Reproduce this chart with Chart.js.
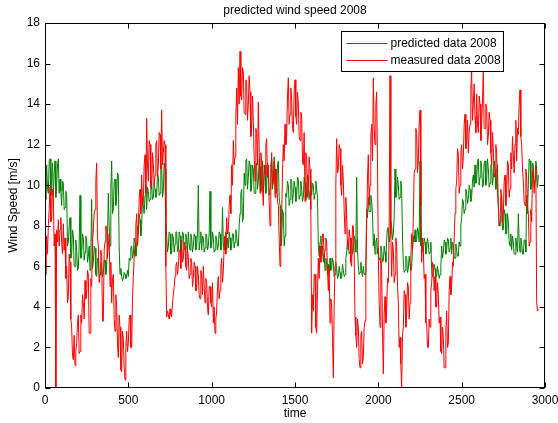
<!DOCTYPE html>
<html>
<head>
<meta charset="utf-8">
<script src="https://cdn.jsdelivr.net/npm/chart.js@4.4.1/dist/chart.umd.min.js"></script>
<style>
  html, body { margin: 0; padding: 0; background: #fff; }
  #wind-plot { display: block; }
</style>
</head>
<body>
<canvas id="wind-plot" width="558" height="423"></canvas>
<script>
// values, one sample every 5 time units starting at 0
// (each row = 100 time units)
const timeStep = 5;

const predicted2008 = [
  10.2, 9.3, 11.0, 9.8, 9.6, 11.2, 11.3, 9.5, 10.4, 11.1, 9.5, 10.6, 11.2, 9.4, 10.0, 11.0, 11.3, 9.6, 10.3, 9.7,
  9.0, 10.2, 10.1, 8.8, 8.9, 9.7, 9.6, 7.0, 7.2, 8.0, 8.4, 6.4, 6.6, 7.8, 7.5, 6.0, 6.0, 7.3, 6.8, 5.8,
  5.9, 7.0, 9.5, 6.4, 6.6, 7.6, 7.4, 6.3, 6.7, 7.5, 7.3, 6.2, 6.5, 7.0, 5.8, 6.6, 9.3, 5.9, 6.2, 7.0,
  6.9, 5.6, 5.5, 6.4, 6.2, 5.5, 5.6, 6.2, 6.0, 5.5, 5.7, 6.3, 6.3, 5.6, 6.0, 7.4, 9.6, 8.0, 7.0, 9.8,
  11.2, 8.6, 8.8, 10.2, 10.3, 9.0, 9.4, 10.6, 10.5, 7.0, 5.6, 5.9, 5.5, 5.3, 5.4, 5.7, 5.6, 5.4, 5.5, 5.8,
  5.5, 6.4, 6.3, 6.9, 7.0, 6.4, 6.6, 7.4, 7.2, 6.5, 6.8, 8.0, 7.6, 8.6, 8.3, 7.5, 8.0, 9.4, 9.0, 8.6,
  9.5, 10.0, 8.8, 9.9, 9.7, 9.2, 9.3, 10.2, 10.0, 9.3, 9.4, 10.1, 9.8, 9.4, 9.5, 10.6, 10.4, 9.5, 9.6, 11.0,
  11.0, 9.4, 9.7, 11.1, 10.8, 8.5, 7.5, 6.7, 7.0, 7.7, 7.6, 6.6, 6.7, 7.6, 7.4, 6.7, 7.1, 7.7, 7.7, 6.7,
  6.8, 7.7, 7.5, 6.7, 7.0, 7.7, 7.6, 6.8, 6.9, 7.6, 7.3, 6.7, 7.7, 7.1, 6.8, 7.6, 7.4, 6.7, 7.0, 7.6,
  7.5, 6.8, 7.0, 7.7, 10.0, 6.8, 7.2, 7.7, 6.8, 7.5, 7.4, 6.7, 6.9, 7.6, 7.5, 6.8, 7.0, 7.6, 9.7, 6.9,
  7.0, 7.7, 7.4, 6.7, 6.8, 7.5, 7.3, 6.8, 7.0, 7.7, 7.6, 6.8, 6.9, 8.9, 7.1, 6.8, 7.5, 7.7, 6.8, 7.4,
  6.9, 7.7, 7.4, 6.8, 7.0, 7.6, 7.6, 6.9, 7.2, 7.8, 7.5, 7.0, 7.0, 8.0, 8.6, 9.6, 9.8, 8.2, 8.4, 10.6,
  10.0, 11.2, 11.3, 9.8, 10.4, 11.2, 11.0, 9.7, 10.0, 11.0, 10.8, 9.6, 9.6, 10.9, 11.1, 9.8, 10.2, 11.3, 10.9, 9.7,
  10.3, 11.2, 9.6, 10.5, 11.0, 9.6, 10.0, 11.1, 10.7, 9.5, 9.8, 11.0, 11.3, 9.8, 10.2, 11.4, 10.8, 9.6, 9.9, 11.0,
  11.2, 9.4, 9.0, 7.0, 7.2, 8.8, 8.6, 7.0, 7.5, 9.6, 9.4, 10.2, 10.0, 9.0, 9.3, 10.3, 10.2, 9.1, 9.6, 10.2,
  9.9, 9.2, 9.4, 10.4, 10.3, 9.3, 9.5, 10.2, 9.8, 9.2, 9.4, 10.4, 10.1, 9.3, 9.6, 10.5, 10.4, 9.3, 9.7, 10.2,
  9.5, 10.1, 10.0, 9.3, 9.6, 10.2, 9.8, 9.4, 7.0, 6.5, 7.2, 7.5, 6.5, 7.0, 6.2, 6.6, 5.8, 6.4, 6.1, 5.6,
  6.1, 5.5, 6.4, 5.8, 5.9, 6.4, 6.2, 5.5, 5.6, 6.2, 5.9, 5.4, 5.5, 6.0, 5.7, 5.4, 5.5, 6.1, 5.8, 5.5,
  5.6, 6.4, 6.7, 7.3, 7.2, 6.6, 6.7, 7.4, 7.2, 6.6, 6.8, 7.5, 7.3, 6.7, 10.4, 6.8, 6.0, 5.6, 5.7, 6.2,
  5.8, 5.5, 6.0, 5.6, 5.6, 6.2, 8.8, 8.4, 9.4, 8.7, 8.7, 9.5, 9.2, 8.6, 7.0, 7.6, 6.6, 7.2, 7.4, 6.6,
  6.9, 6.3, 6.4, 7.0, 6.8, 6.2, 6.3, 7.0, 6.7, 6.2, 7.3, 7.9, 7.9, 7.2, 7.5, 8.2, 8.0, 7.3, 7.6, 8.4,
  10.8, 9.4, 9.5, 10.4, 10.0, 9.3, 9.4, 10.2, 9.8, 7.4, 6.2, 5.7, 5.8, 6.5, 6.4, 5.7, 5.9, 6.5, 6.1, 5.8,
  6.0, 6.8, 7.5, 7.2, 7.8, 7.2, 7.3, 7.9, 7.7, 7.2, 11.2, 7.0, 7.4, 6.7, 6.8, 7.4, 7.2, 6.6, 6.9, 7.4,
  7.1, 6.6, 6.7, 7.2, 5.8, 5.5, 5.6, 6.1, 5.9, 5.5, 5.5, 6.0, 5.7, 5.4, 5.6, 6.0, 7.0, 6.4, 6.7, 7.3,
  7.2, 6.6, 6.8, 7.4, 7.3, 6.7, 6.9, 7.4, 6.6, 7.2, 7.0, 6.4, 6.4, 7.1, 6.8, 6.5, 6.5, 7.2, 7.0, 8.0,
  8.4, 9.3, 9.2, 8.6, 8.8, 9.8, 9.6, 9.1, 9.3, 10.0, 9.8, 9.2, 9.4, 10.2, 10.5, 9.9, 11.0, 10.1, 10.2, 11.2,
  11.3, 10.0, 10.4, 11.2, 10.9, 9.9, 10.0, 11.1, 11.2, 10.0, 10.3, 11.3, 10.8, 9.9, 10.1, 11.0, 11.0, 10.0, 10.4, 11.2,
  10.8, 9.8, 10.2, 11.0, 9.0, 8.0, 8.0, 9.2, 9.5, 7.8, 7.8, 8.8, 8.6, 7.6, 7.6, 8.6, 8.2, 7.2, 7.0, 7.6,
  6.8, 7.5, 7.2, 6.6, 6.6, 7.4, 7.0, 6.7, 8.6, 7.2, 6.7, 7.4, 7.1, 6.6, 6.6, 7.3, 7.3, 6.7, 9.5, 8.6,
  10.0, 11.3, 11.2, 9.8, 10.2, 11.1, 11.0, 9.9, 10.3, 11.2, 10.8, 9.9, 10.5
];

const measured2008 = [
  6.3, 5.6, 7.5, 6.6, 8.0, 8.8, 9.9, 8.2, 8.3, 9.8, 9.6, 7.0, 7.6, 0.0, 7.8, 7.2, 8.3, 7.0, 7.8, 8.4,
  7.2, 6.6, 8.1, 6.8, 7.4, 5.4, 6.0, 4.2, 4.5, 6.6, 6.2, 3.4, 3.0, 1.6, 1.4, 2.6, 1.1, 1.8, 2.2, 3.2,
  3.6, 1.7, 1.8, 3.6, 3.2, 4.6, 4.2, 3.4, 5.3, 4.4, 4.6, 5.8, 5.6, 2.7, 2.7, 5.4, 5.0, 7.2, 7.8, 8.6,
  8.8, 10.2, 11.1, 7.4, 7.0, 5.2, 5.6, 6.8, 6.5, 3.3, 3.3, 6.8, 7.2, 8.0, 7.8, 6.4, 7.0, 7.6, 5.0, 6.2,
  4.2, 5.4, 5.6, 3.4, 2.8, 4.6, 4.0, 2.2, 1.5, 3.6, 3.0, 0.9, 0.8, 2.8, 2.4, 1.0, 0.4, 2.0, 2.8, 1.8,
  2.2, 3.4, 3.6, 2.0, 2.0, 4.4, 5.5, 6.4, 7.0, 8.0, 8.6, 7.0, 7.6, 9.4, 9.8, 8.6, 10.5, 9.0, 9.2, 11.0,
  11.5, 9.6, 13.3, 11.0, 10.2, 12.2, 12.0, 10.0, 9.8, 11.6, 11.0, 10.0, 10.5, 12.0, 12.2, 10.4, 11.0, 12.6, 12.5, 10.8,
  13.7, 11.0, 11.6, 12.2, 12.0, 6.0, 3.5, 3.8, 3.6, 3.4, 3.9, 3.6, 3.5, 4.2, 4.6, 5.0, 5.5, 6.0, 6.2, 5.6,
  6.0, 6.8, 6.8, 5.9, 7.3, 6.2, 6.4, 7.2, 7.0, 6.0, 5.8, 6.8, 6.5, 5.4, 5.6, 6.4, 6.2, 5.0, 5.4, 6.2,
  6.0, 4.8, 4.8, 6.0, 5.6, 4.6, 4.4, 5.8, 5.5, 4.6, 6.0, 5.0, 4.2, 5.4, 5.2, 4.0, 3.6, 5.0, 5.0, 4.2,
  4.0, 5.2, 3.2, 4.0, 2.7, 3.4, 3.8, 5.0, 5.5, 4.4, 4.8, 6.0, 6.4, 5.2, 5.8, 7.0, 7.5, 6.6, 8.4, 7.6,
  7.8, 9.0, 9.5, 8.6, 11.0, 10.0, 12.2, 11.0, 11.4, 13.4, 14.8, 13.0, 15.8, 14.0, 16.6, 14.4, 14.2, 15.8, 15.6, 13.6,
  13.5, 15.2, 15.0, 13.2, 14.0, 15.4, 14.6, 12.4, 12.8, 14.4, 13.2, 11.4, 10.2, 12.8, 12.6, 11.0, 14.1, 11.8, 9.6, 11.6,
  11.2, 9.8, 9.0, 11.0, 10.5, 12.0, 12.3, 10.4, 11.0, 9.2, 8.0, 10.2, 11.6, 10.0, 10.2, 11.2, 9.4, 10.6, 10.8, 9.2,
  9.0, 7.4, 6.0, 7.8, 8.5, 10.6, 12.0, 11.2, 13.0, 12.0, 12.4, 14.4, 15.3, 13.0, 13.5, 14.8, 14.2, 12.8, 12.6, 14.6,
  15.2, 13.4, 13.0, 14.6, 14.0, 12.4, 12.2, 13.6, 13.4, 11.2, 11.0, 12.6, 9.2, 11.6, 11.4, 9.4, 9.6, 11.4, 10.8, 8.8,
  2.7, 4.6, 3.8, 5.6, 5.6, 3.0, 2.7, 4.8, 6.4, 5.4, 7.0, 6.2, 6.5, 7.6, 7.6, 6.4, 6.8, 7.4, 7.2, 5.8,
  4.8, 6.0, 3.2, 4.4, 4.2, 2.4, 0.5, 4.0, 6.0, 10.0, 12.3, 10.6, 10.8, 12.0, 11.8, 10.0, 9.5, 11.0, 10.2, 8.8,
  7.6, 9.4, 8.6, 7.0, 6.8, 7.8, 7.4, 6.2, 6.0, 8.0, 8.0, 6.6, 3.5, 2.6, 2.0, 3.4, 3.0, 1.4, 1.0, 2.6,
  2.8, 1.2, 1.5, 3.0, 3.3, 5.6, 8.0, 10.4, 11.5, 9.0, 10.0, 12.4, 13.0, 11.2, 15.3, 12.8, 12.0, 14.0, 14.6, 11.0,
  6.5, 4.2, 3.0, 6.4, 5.8, 2.8, 0.7, 3.6, 4.5, 3.2, 3.8, 5.4, 5.2, 8.0, 15.4, 7.6, 5.5, 7.2, 6.8, 5.2,
  5.6, 7.4, 7.0, 5.0, 4.2, 2.0, 2.5, 1.2, 0.0, 2.6, 3.0, 4.8, 4.6, 3.0, 3.6, 5.2, 5.0, 3.4, 4.2, 6.4,
  7.6, 6.8, 8.4, 10.6, 10.8, 12.8, 12.6, 10.6, 11.2, 13.0, 13.7, 9.0, 6.2, 7.4, 6.8, 5.4, 5.6, 3.2, 3.2, 2.0,
  2.0, 3.4, 3.0, 4.8, 5.2, 6.2, 6.0, 4.8, 5.5, 4.0, 4.0, 5.2, 4.6, 3.2, 3.5, 1.8, 1.7, 3.0, 2.5, 1.0,
  1.0, 2.8, 3.8, 2.0, 2.2, 4.8, 5.5, 4.6, 5.0, 6.2, 6.0, 7.4, 8.6, 9.8, 10.2, 11.8, 11.5, 9.6, 10.0, 11.6,
  12.0, 10.8, 11.4, 13.0, 13.5, 11.8, 12.2, 13.2, 11.6, 12.6, 13.0, 14.8, 15.6, 13.2, 14.0, 15.0, 13.4, 12.6, 14.5, 13.0,
  12.6, 14.4, 14.0, 12.2, 13.0, 14.2, 15.6, 12.8, 12.8, 14.0, 13.8, 12.0, 12.4, 13.6, 13.2, 11.6, 11.0, 12.6, 11.8, 10.4,
  10.6, 12.0, 11.6, 9.6, 9.0, 8.0, 8.2, 9.8, 9.4, 8.2, 8.6, 10.2, 10.5, 9.0, 9.6, 11.2, 11.0, 9.4, 9.8, 11.6,
  10.8, 12.4, 11.5, 10.6, 12.0, 13.2, 11.2, 12.8, 12.5, 14.0, 14.7, 12.4, 12.0, 10.8, 10.2, 9.2, 9.0, 10.8, 10.4, 9.0,
  8.6, 7.0, 7.2, 8.8, 8.2, 10.6, 10.8, 9.6, 10.2, 11.0, 4.2, 3.8, 3.9
];

const seriesLabels = ['predicted data 2008', 'measured data 2008'];
const seriesColors = ['#008000', '#ff0000'];
const timeTicks = [0, 500, 1000, 1500, 2000, 2500, 3000];
const speedTicks = [0, 2, 4, 6, 8, 10, 12, 14, 16, 18];

const chartTitle = 'predicted wind speed 2008';
const xTitle = 'time';
const yTitle = 'Wind Speed [m/s]';

const fontFamily = '"Liberation Sans", Arial, Helvetica, sans-serif';
Chart.defaults.font.family = fontFamily;
Chart.defaults.font.size = 12;
Chart.defaults.color = '#000';

function toPoints(values) {
    return values.map((v, i) => ({ x: i * timeStep, y: v }));
}

// matlab style box, inward ticks, titles and legend
const matlabAxes = {
    id: 'matlabAxes',
    afterDatasetsDraw(chart) {
        const { ctx, chartArea: a, scales: { x, y } } = chart;
        const L = Math.round(a.left) + 0.5, R = Math.round(a.right) - 0.5;
        const T = Math.round(a.top) + 0.5, B = Math.round(a.bottom) - 0.5;
        ctx.save();
        ctx.strokeStyle = '#000';
        ctx.lineWidth = 1;
        ctx.strokeRect(L, T, R - L, B - T);
        ctx.beginPath();
        timeTicks.forEach(t => {
            const px = Math.round(x.getPixelForValue(t)) + 0.5;
            ctx.moveTo(px, B); ctx.lineTo(px, B - 5);
            ctx.moveTo(px, T); ctx.lineTo(px, T + 5);
        });
        speedTicks.forEach(s => {
            const py = Math.round(y.getPixelForValue(s)) + 0.5;
            ctx.moveTo(L, py); ctx.lineTo(L + 5, py);
            ctx.moveTo(R, py); ctx.lineTo(R - 5, py);
        });
        ctx.stroke();
        ctx.restore();
    },
    afterDraw(chart) {
        const { ctx, chartArea: a } = chart;
        ctx.save();
        ctx.fillStyle = '#000';
        ctx.font = '12px ' + fontFamily;
        ctx.textAlign = 'center';
        ctx.textBaseline = 'middle';
        ctx.fillText(chartTitle, (a.left + a.right) / 2, 11);
        ctx.fillText(xTitle, (a.left + a.right) / 2, 414);
        ctx.save();
        ctx.translate(14, (a.top + a.bottom) / 2);
        ctx.rotate(-Math.PI / 2);
        ctx.fillText(yTitle, 0, 0);
        ctx.restore();

        // legend box
        const bx = 341.5, by = 31.5, bw = 162, bh = 40;
        ctx.fillStyle = '#fff';
        ctx.fillRect(bx, by, bw, bh);
        ctx.strokeStyle = '#000';
        ctx.lineWidth = 1;
        ctx.strokeRect(bx, by, bw, bh);
        ctx.textAlign = 'left';
        seriesLabels.forEach((lbl, i) => {
            const ry = Math.round(by + 11 + i * 17) + 0.5;
            ctx.strokeStyle = seriesColors[i];
            ctx.beginPath();
            ctx.moveTo(bx + 5, ry);
            ctx.lineTo(bx + 46, ry);
            ctx.stroke();
            ctx.fillStyle = '#000';
            ctx.fillText(lbl, bx + 49, ry);
        });
        ctx.restore();
    }
};

const windPlot = new Chart('wind-plot', {
    type: 'line',
    data: {
        datasets: [{
            label: seriesLabels[0],
            data: toPoints(predicted2008),
            borderColor: seriesColors[0],
            borderWidth: 1,
            pointRadius: 0,
            tension: 0,
            order: 2
        }, {
            label: seriesLabels[1],
            data: toPoints(measured2008),
            borderColor: seriesColors[1],
            borderWidth: 1,
            pointRadius: 0,
            tension: 0,
            order: 1
        }]
    },
    options: {
        responsive: false,
        animation: false,
        devicePixelRatio: 1,
        layout: { padding: { top: 23, right: 13, left: 0, bottom: 0 } },
        scales: {
            x: {
                type: 'linear',
                min: 0,
                max: 3000,
                grid: { display: false, drawTicks: false },
                border: { display: false },
                ticks: { padding: 5, maxRotation: 0, autoSkip: false, callback: v => String(v) },
                afterBuildTicks: s => { s.ticks = timeTicks.map(v => ({ value: v })); },
                afterFit: s => { s.height = 35; s.paddingLeft = 0; s.paddingRight = 0; }
            },
            y: {
                min: 0,
                max: 18,
                grid: { display: false, drawTicks: false },
                border: { display: false },
                ticks: { padding: 5, callback: v => String(v) },
                afterBuildTicks: s => { s.ticks = speedTicks.map(v => ({ value: v })); },
                afterFit: s => { s.width = 45; s.paddingTop = 0; s.paddingBottom = 0; }
            }
        },
        plugins: {
            legend: { display: false },
            tooltip: { enabled: false }
        }
    },
    plugins: [matlabAxes]
});
</script>
</body>
</html>
